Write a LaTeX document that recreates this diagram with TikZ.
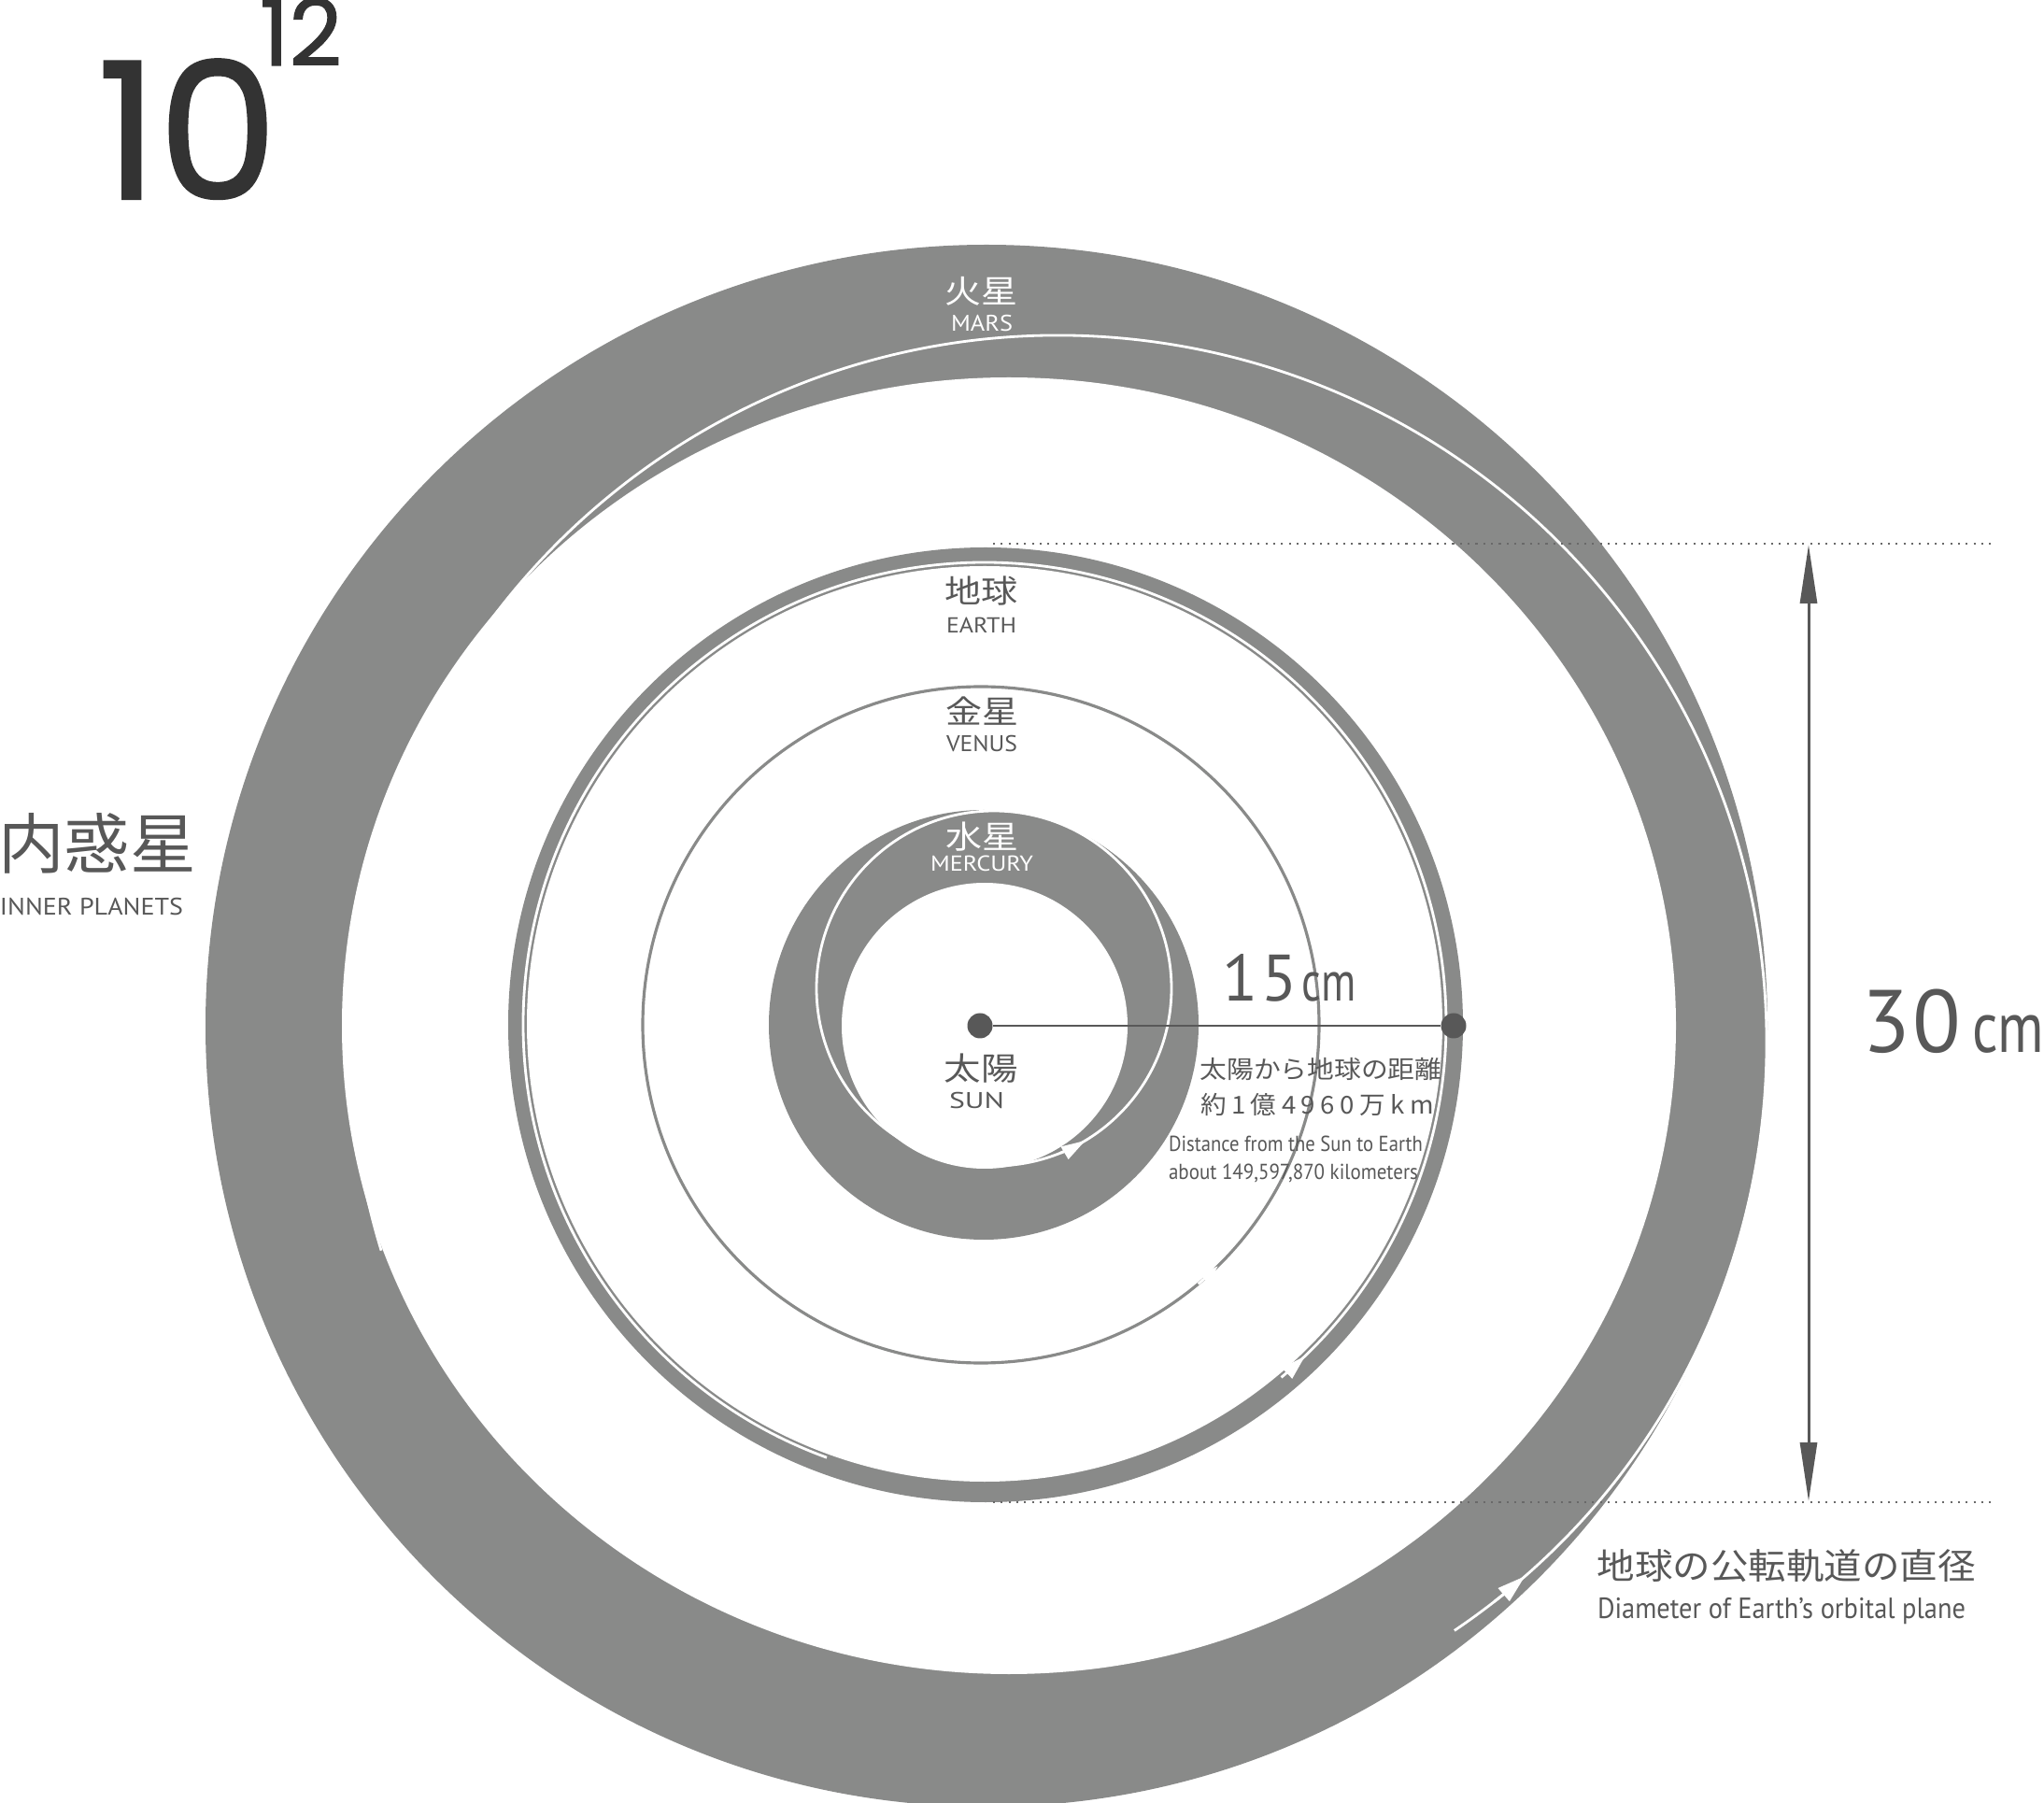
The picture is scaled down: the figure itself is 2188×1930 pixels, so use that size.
\documentclass[tikz,border=0pt]{standalone}
\usepackage{fontspec}
\usepackage{graphicx}
\usetikzlibrary{arrows.meta}
\newfontfamily\jpf{Noto Sans CJK JP}
\newfontfamily\latf{PT Sans}
\newfontfamily\ttlf[FakeBold=1.2]{Poppins}
\definecolor{orb}{RGB}{137,138,137}
\definecolor{txt}{RGB}{88,88,88}
\definecolor{ttlc}{RGB}{51,51,51}
\newlength\fitlen
\newcommand\fitw[2]{\settowidth\fitlen{#2}\pgfmathsetmacro\fitr{#1/\fitlen}\scalebox{\fitr}[1]{#2}}
\newcommand\fs[1]{\fontsize{#1}{#1}\selectfont}
\begin{document}
\begin{tikzpicture}[x=0.1mm,y=-0.1mm,
  lbl/.style={inner sep=0pt,outer sep=0pt},
  wline/.style={draw=white,line width=0.8pt},
  dotline/.style={draw=txt!90,line width=0.6pt,dash pattern=on 0.6pt off 1.77pt},
  dotn/.style={circle,fill=txt,inner sep=0pt,minimum size=2.7mm},
  dimline/.style={draw=txt,line width=0.85pt}]
\fill[white] (0,0) rectangle (2188,1930);
\useasboundingbox (0,0) rectangle (2188,1930);
% ---- Mars
\fill[orb] (1056,1098) circle (836);
\fill[white] (1080,1098) ellipse [x radius=714, y radius=694];
\draw[wline] (1133,1117) ++(56:758) arc (56:-197:758);
\draw[wline,-{Triangle[length=3mm,width=1.8mm]}] (1133,1117) ++(52:758) arc (52:48.8:758);
% ---- Earth
\fill[orb] (1055,1097) circle (511);
\fill[white] (1054,1096) circle (490);
\draw[wline] (1054,1096) ++(49:494) arc (49:-250:494);
\draw[wline,-{Triangle[length=2.7mm,width=1.5mm]}] (1054,1096) ++(50:494) arc (50:46:494);
% ---- Venus
\draw[orb,line width=0.9pt] (1050,1097) circle (362);
\draw[wline,-{Triangle[length=2mm,width=1.3mm]}] (1050,1097) ++(50:362) arc (50:45.5:362);
% ---- Mercury
\fill[orb] (1053,1097) circle (230);
\fill[white] (1054,1098) circle (153);
\draw[wline] (1064,1058) circle (190);
\draw[wline,-{Triangle[length=2.6mm,width=1.5mm]}] (1064,1058) ++(68:190) arc (68:59:190);
% ---- title
\node[lbl,anchor=base west,text=ttlc] (ten) at (104,213) {\ttlf\fs{58pt}10};
\node[lbl,anchor=base west,text=ttlc] (twelve) at (278,70) {\ttlf\fs{28pt}12};
% ---- inner planets
\node[lbl,text=txt] (inner) at (104,903) {\jpf\fs{20pt}\fitw{21.2mm}{内惑星}};
\node[lbl,anchor=base west,text=txt] (innerEn) at (0,980) {\latf\fs{7.3pt}\fitw{19.6mm}{INNER PLANETS}};
% ---- planet labels
\node[lbl,text=white] (marsJ) at (1050,312) {\jpf\fs{9.7pt}\fitw{7.8mm}{火星}};
\node[lbl,anchor=base west,text=white] (marsE) at (1018,355) {\latf\fs{6.9pt}\fitw{6.6mm}{MARS}};
\node[lbl,text=txt] (earthJ) at (1050,633) {\jpf\fs{9.7pt}\fitw{7.8mm}{地球}};
\node[lbl,anchor=base west,text=txt] (earthE) at (1013,678) {\latf\fs{6.6pt}\fitw{7.5mm}{EARTH}};
\node[lbl,text=txt] (venusJ) at (1051,761) {\jpf\fs{9.7pt}\fitw{7.8mm}{金星}};
\node[lbl,anchor=base west,text=txt] (venusE) at (1013,805) {\latf\fs{6.9pt}\fitw{7.6mm}{VENUS}};
\node[lbl,text=white] (mercJ) at (1051,896) {\jpf\fs{9.7pt}\fitw{7.8mm}{水星}};
\node[lbl,anchor=base west,text=white] (mercE) at (996,933) {\latf\fs{6.6pt}\fitw{11.0mm}{MERCURY}};
\node[lbl,text=txt] (sunJ) at (1050,1144) {\jpf\fs{9.7pt}\fitw{7.9mm}{太陽}};
\node[lbl,anchor=base west,text=txt] (sunE) at (1016,1187) {\latf\fs{6.9pt}\fitw{5.9mm}{SUN}};
% ---- distance texts
\node[lbl,text=txt] (distJ) at (1414,1144) {\jpf\fs{7.5pt}\fitw{25.9mm}{太陽から地球の距離}};
\node[lbl,text=txt] (distN) at (1410,1182) {\jpf\fs{7.5pt}\addfontfeature{LetterSpace=20}\fitw{25.0mm}{約1億4960万km}};
\node[lbl,anchor=base west,text=txt] (distE1) at (1251,1233) {\latf\fs{6.6pt}\fitw{27.2mm}{Distance from the Sun to Earth}};
\node[lbl,anchor=base west,text=txt] (distE2) at (1251,1263) {\latf\fs{6.6pt}\fitw{26.7mm}{about 149,597,870 kilometers}};
\node[lbl,text=txt] (diamJ) at (1912,1676) {\jpf\fs{10.8pt}\fitw{40.5mm}{地球の公転軌道の直径}};
\node[lbl,anchor=base west,text=txt] (diamE) at (1710,1732) {\latf\fs{8.9pt}\fitw{39.4mm}{Diameter of Earth’s orbital plane}};
\node[lbl,anchor=base west,text=txt] (d15) at (1308,1072) {\latf\fs{20pt}1\kern0.4mm5\kern0.5mm\fitw{5.8mm}{\fs{17pt}cm}};
\node[lbl,anchor=base west,text=txt] (d30) at (1993,1127) {\latf\fs{27pt}3\kern0.3mm0\kern1.2mm\fitw{7.7mm}{\fs{22pt}cm}};
% ---- dimension lines
\coordinate (dtl) at (1063,582); \coordinate (dtr) at (2135,582);
\coordinate (dbl) at (1063,1608); \coordinate (dbr) at (2135,1608);
\draw[dotline] (dtl) -- (dtr);
\draw[dotline] (dbl) -- (dbr);
\coordinate (at) at (1936,583); \coordinate (ab) at (1936,1607);
\draw[dimline,{Triangle[length=6.3mm,width=1.8mm]}-{Triangle[length=6.3mm,width=1.8mm]}] (at) -- (ab);
% ---- radius
\node[dotn] (sun) at (1049,1098) {};
\node[dotn] (earthpt) at (1556,1098) {};
\draw[dimline] (sun) -- (earthpt);
\end{tikzpicture}
\end{document}
